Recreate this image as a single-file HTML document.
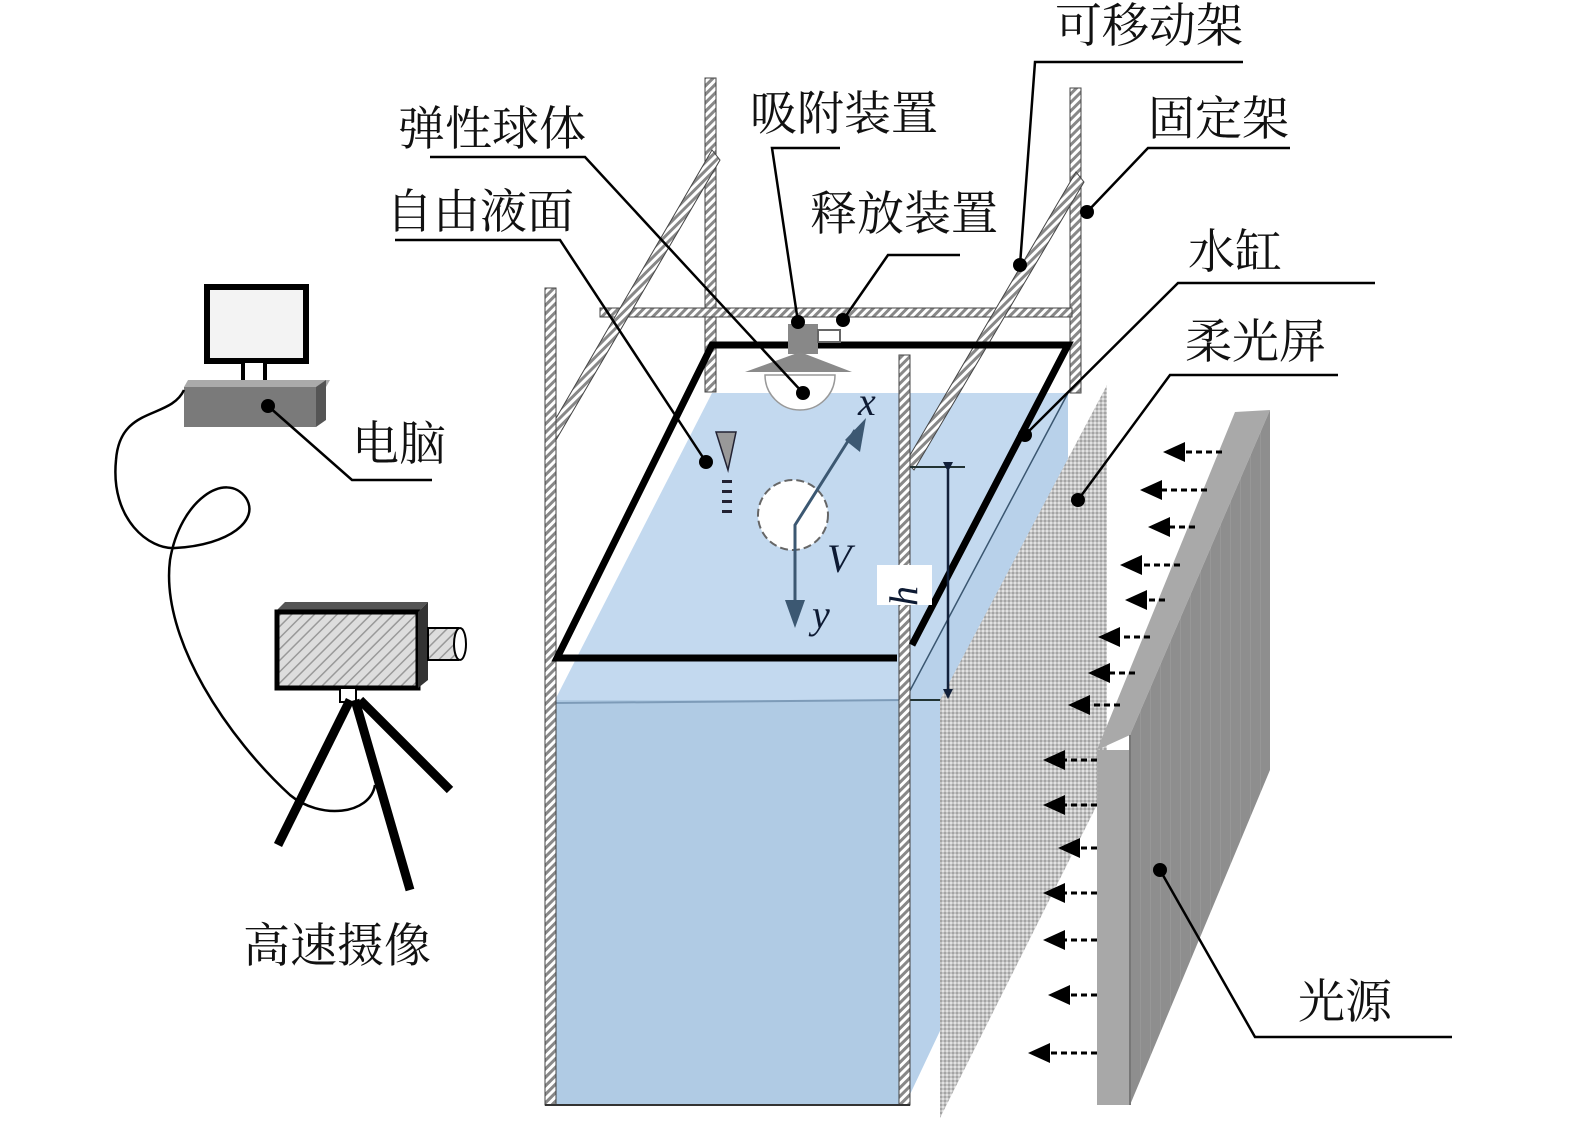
<!DOCTYPE html>
<html><head><meta charset="utf-8"><style>
html,body{margin:0;padding:0;background:#fff;}
svg{display:block;}
.lb{font-family:"Liberation Serif","Noto Serif CJK SC",serif;font-size:47px;fill:#111;}
.it{font-family:"Liberation Serif",serif;font-style:italic;font-size:40px;fill:#0d1a33;}
</style></head><body>
<svg width="1575" height="1132" viewBox="0 0 1575 1132" xmlns="http://www.w3.org/2000/svg">
<defs>
<pattern id="h" width="6" height="6" patternUnits="userSpaceOnUse" patternTransform="rotate(45)">
<rect width="6" height="6" fill="#fff"/><rect width="3" height="6" fill="#888"/></pattern>
<pattern id="cam" width="8" height="8" patternUnits="userSpaceOnUse" patternTransform="rotate(45)">
<rect width="8" height="8" fill="#ddd"/><rect width="1.5" height="8" fill="#999"/></pattern>
<pattern id="scr" width="4" height="4" patternUnits="userSpaceOnUse">
<rect width="4" height="4" fill="#c4c4c4"/><rect width="2" height="2" fill="#a4a4a4"/><rect x="2" y="2" width="2" height="2" fill="#e2e2e2"/></pattern>
<pattern id="src" width="10" height="10" patternUnits="userSpaceOnUse">
<rect width="10" height="10" fill="#8e8e8e"/><rect width="1" height="10" fill="#979797"/></pattern>
<marker id="ar" markerWidth="10" markerHeight="10" refX="8" refY="5" orient="auto" markerUnits="userSpaceOnUse"><path d="M0,0 L10,5 L0,10z" fill="#12203a"/></marker>
</defs>

<polygon points="555,700 712,393 1068,393 905,700" fill="#c3d9ef"/>
<polygon points="555,700 905,700 905,1105 555,1105" fill="#b0cbe4"/>
<line x1="555" y1="703" x2="905" y2="700" stroke="#7d9bb8" stroke-width="2"/>
<polygon points="905,700 1068,393 1068,760 905,1105" fill="#b8d1ea"/>
<line x1="905" y1="700" x2="1068" y2="393" stroke="#3a5670" stroke-width="1.5"/>
<line x1="905" y1="700" x2="965" y2="700" stroke="#233" stroke-width="2"/>

<rect x="705" y="78" width="11" height="314" fill="url(#h)" stroke="#444" stroke-width="1"/>
<rect x="1070" y="88" width="11" height="305" fill="url(#h)" stroke="#444" stroke-width="1"/>
<rect x="600" y="308" width="472" height="9" fill="url(#h)" stroke="#444" stroke-width="1"/>
<polygon points="548,432 556,440 720,160 712,150" fill="url(#h)" stroke="#444" stroke-width="1"/>
<polygon points="906,462 914,470 1084,182 1076,172" fill="url(#h)" stroke="#444" stroke-width="1"/>

<polygon points="940,1118 940,700 1107,385 1107,785" fill="url(#scr)"/>

<rect x="545" y="288" width="11" height="817" fill="url(#h)" stroke="#444" stroke-width="1"/>
<rect x="899" y="355" width="11" height="750" fill="url(#h)" stroke="#444" stroke-width="1"/>
<line x1="545" y1="1105" x2="910" y2="1105" stroke="#333" stroke-width="2"/>

<polyline points="897,658 557,658 712,345 1068,345 912,645" fill="none" stroke="#000" stroke-width="7"/>

<rect x="788" y="324" width="30" height="30" fill="#888"/>
<rect x="818" y="330" width="22" height="12" fill="#fff" stroke="#666" stroke-width="2"/>
<polygon points="745,372 800,352 852,372" fill="#8a8a8a"/>
<path d="M765,375 A35,35 0 0 0 835,375 Z" fill="#fff" stroke="#999" stroke-width="1.5"/>
<circle cx="793" cy="515" r="35" fill="#fff" stroke="#666" stroke-width="2" stroke-dasharray="8,4"/>
<polyline points="795,620 795,525 855,430" fill="none" stroke="#3c5872" stroke-width="3"/>
<polygon points="845,440 866,418 860,452" fill="#3c5872"/>
<polygon points="785,600 805,600 795,628" fill="#3c5872"/>
<text class="it" x="858" y="415">x</text>
<text class="it" x="827" y="572">V</text>
<text class="it" x="812" y="628">y</text>
<polygon points="716,432 736,432 728,470" fill="#999" stroke="#223" stroke-width="1.5"/>
<rect x="722" y="480" width="10" height="3" fill="#223"/><rect x="722" y="490" width="10" height="3" fill="#223"/><rect x="722" y="500" width="10" height="3" fill="#223"/><rect x="722" y="510" width="10" height="3" fill="#223"/>

<line x1="910" y1="467" x2="965" y2="467" stroke="#233" stroke-width="2"/>
<line x1="948" y1="470" x2="948" y2="697" stroke="#12203a" stroke-width="2.5" marker-start="url(#ar)" marker-end="url(#ar)"/>
<rect x="877" y="565" width="55" height="40" fill="#fff"/>
<text class="it" x="0" y="0" transform="translate(917,606) rotate(-90)">h</text>

<polygon points="1097,750 1235,412 1270,410 1130,735" fill="#a9a9a9"/>
<polygon points="1130,735 1270,410 1270,770 1130,1105" fill="url(#src)"/>
<rect x="1097" y="750" width="33" height="355" fill="#a8a8a8"/>
<line x1="1130" y1="735" x2="1130" y2="1105" stroke="#777" stroke-width="2"/>

<g fill="#000" stroke="#000" stroke-width="3" stroke-dasharray="6,4">
<line x1="1222" y1="452" x2="1180" y2="452"/><line x1="1207" y1="490" x2="1160" y2="490"/>
<line x1="1195" y1="527" x2="1165" y2="527"/><line x1="1180" y1="565" x2="1140" y2="565"/>
<line x1="1165" y1="600" x2="1145" y2="600"/><line x1="1150" y1="637" x2="1118" y2="637"/>
<line x1="1135" y1="673" x2="1108" y2="673"/><line x1="1120" y1="705" x2="1090" y2="705"/>
<line x1="1097" y1="760" x2="1065" y2="760"/><line x1="1097" y1="805" x2="1065" y2="805"/>
<line x1="1097" y1="848" x2="1078" y2="848"/><line x1="1097" y1="893" x2="1065" y2="893"/>
<line x1="1097" y1="940" x2="1065" y2="940"/><line x1="1097" y1="995" x2="1070" y2="995"/>
<line x1="1097" y1="1053" x2="1050" y2="1053"/>
</g>
<g fill="#000">
<polygon points="1163,452 1185,442 1185,462"/><polygon points="1140,490 1162,480 1162,500"/>
<polygon points="1148,527 1170,517 1170,537"/><polygon points="1120,565 1142,555 1142,575"/>
<polygon points="1125,600 1147,590 1147,610"/><polygon points="1098,637 1120,627 1120,647"/>
<polygon points="1088,673 1110,663 1110,683"/><polygon points="1068,705 1090,695 1090,715"/>
<polygon points="1043,760 1065,750 1065,770"/><polygon points="1043,805 1065,795 1065,815"/>
<polygon points="1058,848 1080,838 1080,858"/><polygon points="1043,893 1065,883 1065,903"/>
<polygon points="1043,940 1065,930 1065,950"/><polygon points="1048,995 1070,985 1070,1005"/>
<polygon points="1028,1053 1050,1043 1050,1063"/>
</g>

<rect x="207" y="287" width="99" height="74" fill="#f3f3f3" stroke="#000" stroke-width="6"/>
<rect x="243" y="361" width="22" height="25" fill="#fff" stroke="#000" stroke-width="4"/>
<polygon points="184,387 188,380 330,380 326,387" fill="#aaa"/>
<rect x="184" y="387" width="132" height="40" fill="#7a7a7a"/>
<polygon points="316,387 326,380 326,420 316,427" fill="#555"/>
<circle cx="268" cy="406" r="7" fill="#000"/>
<polyline points="268,406 352,480 432,480" fill="none" stroke="#000" stroke-width="2.5"/>
<text class="lb" x="352" y="460">电脑</text>
<path d="M184,390 C170,420 120,405 116,460 C110,520 150,550 175,548 C230,545 260,520 246,498 C226,470 180,500 170,560 C160,640 230,740 290,795 C320,820 370,815 375,785" fill="none" stroke="#000" stroke-width="2.5"/>
<polygon points="275,612 285,602 428,602 418,612" fill="#555"/>
<rect x="277" y="612" width="141" height="76" fill="url(#cam)" stroke="#000" stroke-width="5"/>
<polygon points="418,612 428,602 428,680 418,688" fill="#333"/>
<rect x="428" y="628" width="30" height="32" fill="url(#cam)" stroke="#000" stroke-width="2"/>
<ellipse cx="460" cy="644" rx="6" ry="16" fill="#fff" stroke="#000" stroke-width="2"/>
<rect x="340" y="688" width="16" height="14" fill="#fff" stroke="#000" stroke-width="2"/>
<g stroke="#000" stroke-width="9">
<line x1="350" y1="700" x2="278" y2="845"/>
<line x1="355" y1="700" x2="410" y2="890"/>
<line x1="360" y1="700" x2="450" y2="790"/>
</g>
<text class="lb" x="243" y="962">高速摄像</text>

<g fill="none" stroke="#000" stroke-width="2.5">
<polyline points="1243,62 1035,62 1020,265"/>
<polyline points="1290,148 1148,148 1087,212"/>
<polyline points="430,157 585,157 803,393"/>
<polyline points="840,148 772,148 798,322"/>
<polyline points="960,255 888,255 843,320"/>
<polyline points="395,240 560,240 706,462"/>
<polyline points="1375,283 1178,283 1025,435"/>
<polyline points="1338,375 1170,375 1078,500"/>
<polyline points="1452,1037 1255,1037 1160,870"/>
</g>
<g fill="#000">
<circle cx="1020" cy="265" r="7"/><circle cx="1087" cy="212" r="7"/><circle cx="803" cy="393" r="7"/>
<circle cx="798" cy="322" r="7"/><circle cx="843" cy="320" r="7"/><circle cx="706" cy="462" r="7"/>
<circle cx="1025" cy="435" r="7"/><circle cx="1078" cy="500" r="7"/><circle cx="1160" cy="870" r="7"/>
</g>
<text class="lb" x="1055" y="42">可移动架</text>
<text class="lb" x="1148" y="135">固定架</text>
<text class="lb" x="398" y="145">弹性球体</text>
<text class="lb" x="750" y="130">吸附装置</text>
<text class="lb" x="810" y="230">释放装置</text>
<text class="lb" x="386" y="228">自由液面</text>
<text class="lb" x="1188" y="268">水缸</text>
<text class="lb" x="1185" y="358">柔光屏</text>
<text class="lb" x="1298" y="1018">光源</text>
</svg>
</body></html>
